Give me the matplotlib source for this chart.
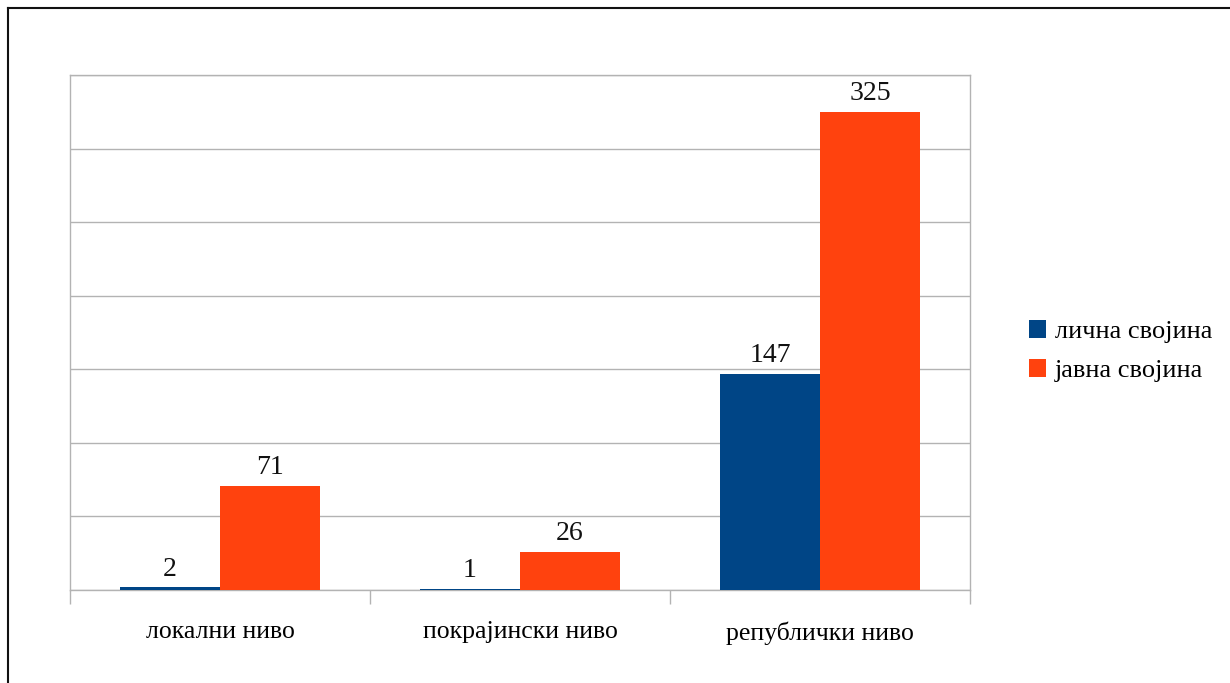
import matplotlib
matplotlib.use("Agg")
import matplotlib.pyplot as plt
from matplotlib.lines import Line2D
from matplotlib.patches import Patch
import numpy as np

categories = ["локални ниво", "покрајински ниво", "републички ниво"]
series_names = ["лична својина", "јавна својина"]
licna = [2, 1, 147]
javna = [71, 26, 325]

BLUE = "#004586"
ORANGE = "#ff420e"
GRID = "#b3b3b3"

plt.rcParams["font.family"] = ["Liberation Serif", "DejaVu Serif"]

fig = plt.figure(figsize=(12.3, 6.83), dpi=100)
ax = fig.add_axes([70 / 1230, 1 - 590 / 683, 900 / 1230, 515 / 683])

x = np.arange(len(categories))
w = 1 / 3
b1 = ax.bar(x - w / 2, licna, width=w, color=BLUE, zorder=3)
b2 = ax.bar(x + w / 2, javna, width=w, color=ORANGE, zorder=3)
for bars, vals in ((b1, licna), (b2, javna)):
    for rect, v in zip(bars, vals):
        ax.annotate(f"{v}", (rect.get_x() + rect.get_width() / 2, v),
                    xytext=(0, 4), textcoords="offset points",
                    ha="center", va="bottom", fontsize=20, color="#111111")

ax.set_xlim(-0.5, len(categories) - 0.5)
ax.set_ylim(0, 350)
ax.set_yticks(np.arange(0, 351, 50))
ax.yaxis.set_tick_params(length=0, labelleft=False)
ax.grid(axis="y", color=GRID, linewidth=1, zorder=0)

# category boundary ticks
ax.set_xticks(np.arange(-0.5, len(categories), 1))
ax.set_xticklabels([])
ax.tick_params(axis="x", length=10, color=GRID, width=1)
ax.set_xticks(x, minor=True)
ax.set_xticklabels(categories, minor=True, fontsize=18.5)
ax.tick_params(axis="x", which="minor", length=0, pad=22.5)

for side in ("top", "right", "left", "bottom"):
    ax.spines[side].set_color(GRID)
    ax.spines[side].set_linewidth(1)

handles = [Patch(facecolor=BLUE), Patch(facecolor=ORANGE)]
fig.legend(handles, series_names, loc="center left",
           bbox_to_anchor=(1005 / 1230, 1 - 351 / 683), frameon=False,
           fontsize=19, handlelength=0.65, handleheight=0.65, handletextpad=0.35,
           labelspacing=0.6)

# outer frame (left and top edges visible)
fig.add_artist(Line2D([8 / 1230, 8 / 1230], [0, 1 - 8 / 683], color="#111111", lw=1.5))
fig.add_artist(Line2D([8 / 1230, 1], [1 - 8 / 683, 1 - 8 / 683], color="#111111", lw=1.5))

fig.savefig("out.png", dpi=100, facecolor="white")
